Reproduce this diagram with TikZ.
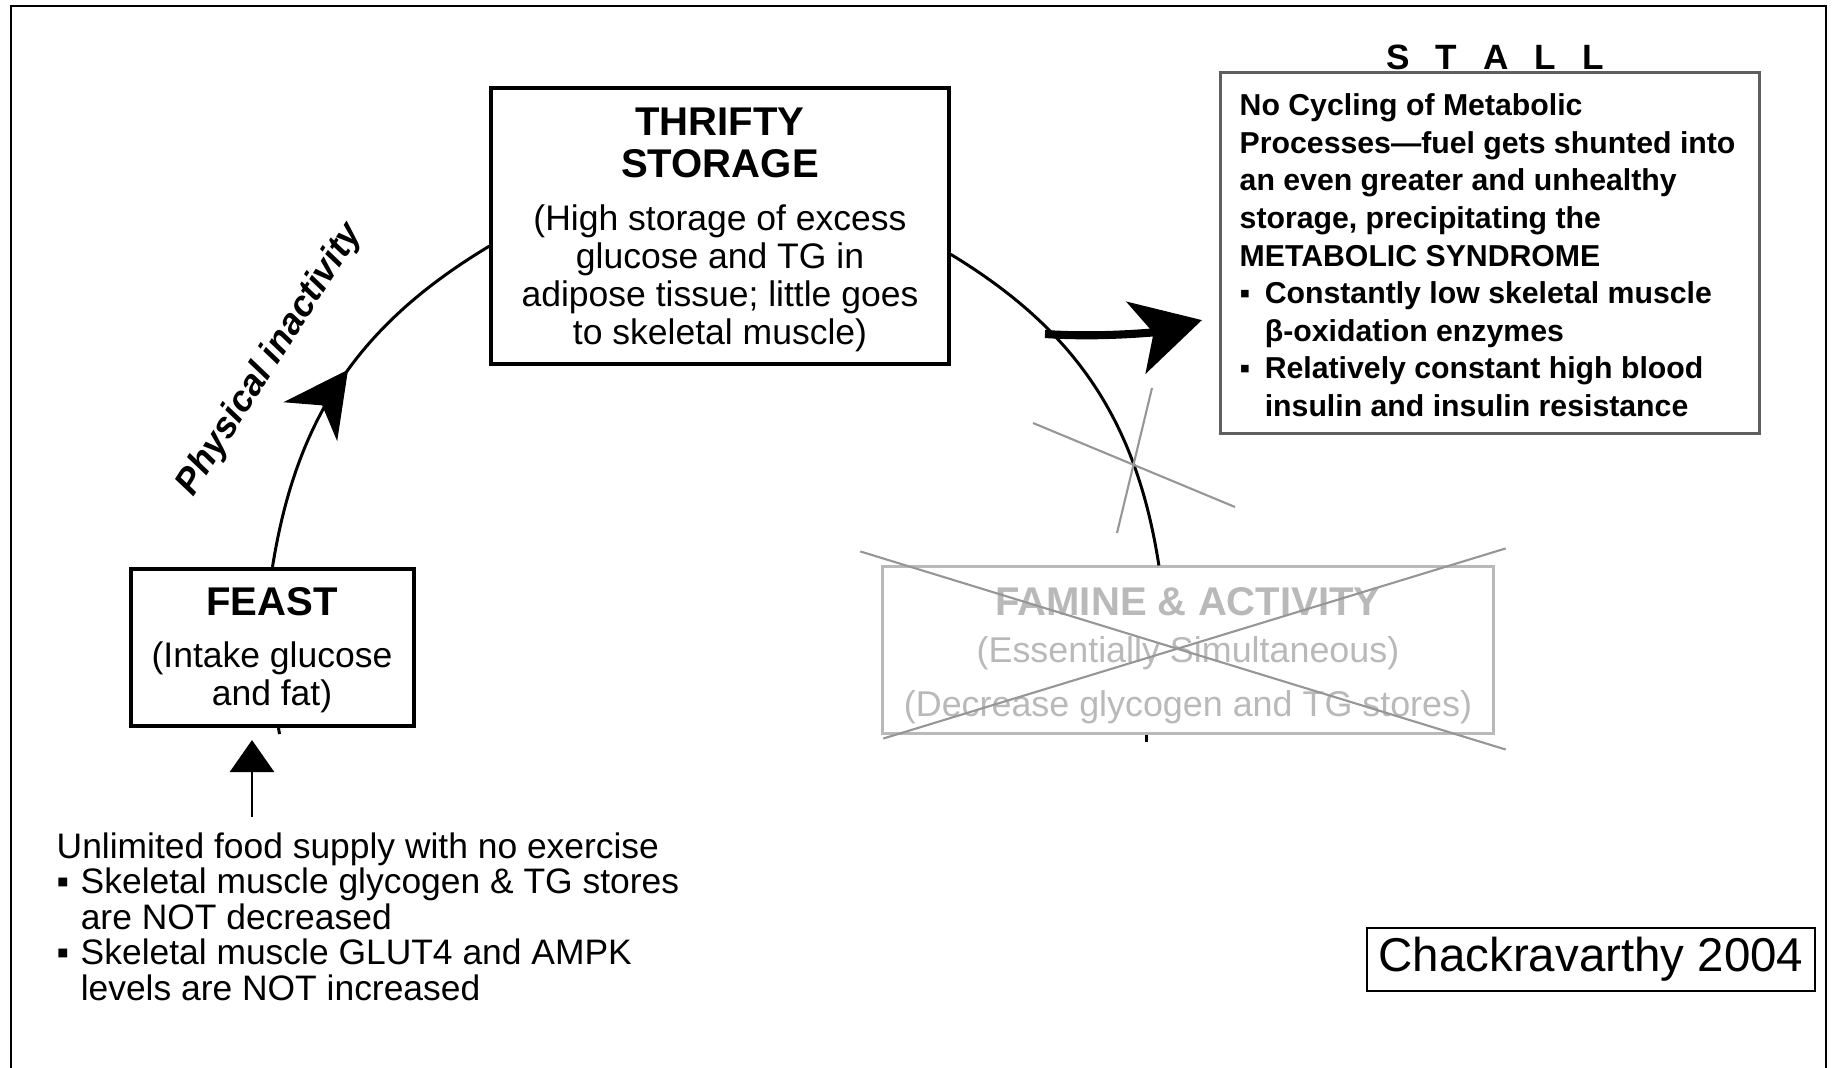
\documentclass[tikz,border=0pt]{standalone}
\usepackage{fontspec}
\setmainfont{Liberation Sans}
\usepackage{tikz}
\usetikzlibrary{calc,arrows.meta,decorations.markings}
\definecolor{crossgray}{RGB}{150,150,150}
\definecolor{famgray}{RGB}{185,185,185}
\definecolor{stallgray}{RGB}{95,95,95}
\tikzset{stagebox/.style={draw, line width=1.15pt, inner sep=0pt},
         headtxt/.style={font=\fontsize{11.4}{12.1}\selectfont\bfseries, align=center, inner sep=0pt},
         bodytxt/.style={font=\fontsize{10.1}{10.8}\selectfont, align=center, inner sep=0pt},
         stalltxt/.style={font=\fontsize{8.6}{10.7}\selectfont\bfseries, align=left, inner sep=0pt},
         notetxt/.style={font=\fontsize{10.07}{10.1}\selectfont, align=left, inner sep=0pt},
         cyclearc/.style={line width=0.85pt},
         arrowarc/.style={cyclearc, postaction={decorate}, decoration={markings,
           mark=at position 0.53 with {\arrow{Stealth[length=0.64cm, width=0.66cm, inset=0.2cm]}}}},
         strike/.style={crossgray, line width=0.6pt}}

\begin{document}
\begin{tikzpicture}[x=0.01cm, y=-0.01cm]
\useasboundingbox (0,0) rectangle (1835,1068);
\draw [line width=0.6pt] (11,1068) -- (11,6) -- (1826,6) -- (1826,1068);

\node [stagebox, minimum width=4.57cm, minimum height=2.76cm] (thrifty) at (720,226) {};
\node [headtxt] (thriftyhead) at (720,143) {THRIFTY\\STORAGE};
\node [bodytxt] (thriftybody) at (720,278) {(High storage of excess\\glucose and TG in\\adipose tissue; little goes\\to skeletal muscle)};

\node [stagebox, minimum width=2.83cm, minimum height=1.57cm] (feast) at (272.5,647.5) {};
\node [headtxt] (feasthead) at (272,602) {FEAST};
\node [bodytxt] (feastbody) at (272,677) {(Intake glucose\\and fat)};

\node [stagebox, draw=famgray, line width=0.85pt, minimum width=6.1cm, minimum height=1.66cm] (famine) at (1188,650) {};
\node [headtxt, famgray] (faminehead) at (1188,602) {FAMINE \& ACTIVITY};
\node [bodytxt, famgray, font=\fontsize{10.2}{15.4}\selectfont] (faminebody) at (1188,680) {(Essentially Simultaneous)\\(Decrease glycogen and TG stores)};
\draw [strike] ($(famine.north west)+(-21,-14)$) -- ($(famine.south east)+(11,15)$);
\draw [strike] ($(famine.north east)+(11,-17)$) -- ($(famine.south west)+(2,4)$);

\node [stagebox, draw=stallgray, line width=0.85pt, minimum width=5.38cm, minimum height=3.6cm] (stall) at (1490,253) {};
\node [font=\fontsize{10}{12}\selectfont\bfseries, inner sep=0pt] (stallhead) at (1495,57) {S\hspace{.74em}T\hspace{.74em}A\hspace{.74em}L\hspace{.74em}L};
\node [stalltxt, anchor=north west] (stallbody) at (1239,93) {No Cycling of Metabolic\\Processes—fuel gets shunted into\\an even greater and unhealthy\\storage, precipitating the\\METABOLIC SYNDROME\\\makebox[0.83em][l]{▪}Constantly low skeletal muscle\\\hspace*{0.83em}β-oxidation enzymes\\\makebox[0.83em][l]{▪}Relatively constant high blood\\\hspace*{0.83em}insulin and insulin resistance};

\node [notetxt, anchor=north west] (supply) at (56,832) {Unlimited food supply with no exercise\\\makebox[0.68em][l]{▪}Skeletal muscle glycogen \& TG stores\\\hspace*{0.68em}are NOT decreased\\\makebox[0.68em][l]{▪}Skeletal muscle GLUT4 and AMPK\\\hspace*{0.68em}levels are NOT increased};

\node [draw, line width=0.6pt, minimum width=4.48cm, minimum height=0.63cm, inner sep=0pt, font=\fontsize{13.5}{16}\selectfont] (cite) at (1591,959.5) {Chackravarthy 2004};

\node [font=\fontsize{10.3}{12}\selectfont\bfseries\itshape, rotate=57.4, inner sep=0pt] (inact) at (270,360) {Physical inactivity};

\draw [arrowarc] (feast.north) to [bend left=25] (thrifty.185);
\draw [cyclearc] (thrifty.353) to [bend left=25] (famine.109);
\draw [cyclearc] ($(feast.south)+(6,0)$) -- +(1,6);
\draw [cyclearc] ($(famine.south)+(-42,0)$) -- +(0,7);

\coordinate (block) at (1136,467);
\draw [strike] ($(block)+(-103,-44)$) -- ($(block)+(99,40)$);
\draw [strike] ($(block)+(16,-79)$) -- ($(block)+(-19,66)$);

\coordinate (shunt) at (1045,334);
\draw [line width=2.3pt, -{Stealth[length=0.68cm, width=0.74cm, inset=0.18cm]}, shorten >=0.18cm] (shunt) .. controls +(60,4) and +(-60,16) .. (stall.193);

\coordinate (feed) at (252,817);
\draw [line width=0.85pt, -{Triangle[length=0.32cm, width=0.44cm]}, shorten >=0.12cm] (feed) -- (feed |- feast.south);
\end{tikzpicture}
\end{document}
